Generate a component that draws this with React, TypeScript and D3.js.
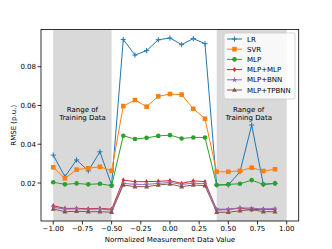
import React from 'react';
import * as d3 from 'd3';

const xs = [-1.0, -0.9, -0.8, -0.7, -0.6, -0.5, -0.4, -0.3, -0.2, -0.1, 0.0, 0.1, 0.2, 0.3, 0.4, 0.5, 0.6, 0.7, 0.8, 0.9];

const lr = [0.0344, 0.0233, 0.0319, 0.0263, 0.0361, 0.019, 0.0941, 0.086, 0.0883, 0.0939, 0.0948, 0.0914, 0.0945, 0.0919, 0.019, 0.019, 0.0258, 0.0499, 0.0193, 0.0198];
const svr = [0.0281, 0.0224, 0.0269, 0.0276, 0.0284, 0.0263, 0.0597, 0.0628, 0.0594, 0.0647, 0.0659, 0.0656, 0.0583, 0.0532, 0.0258, 0.0258, 0.0263, 0.0279, 0.0262, 0.0271];
const mlp = [0.0204, 0.0193, 0.0198, 0.0193, 0.0196, 0.0186, 0.0444, 0.0427, 0.0433, 0.0443, 0.0447, 0.043, 0.0435, 0.0435, 0.019, 0.0193, 0.0196, 0.0215, 0.0193, 0.0198];
const mlpMlp = [0.0083, 0.0069, 0.0069, 0.0067, 0.0069, 0.0065, 0.0215, 0.0207, 0.0207, 0.0209, 0.0212, 0.0198, 0.0211, 0.0207, 0.0061, 0.0063, 0.0071, 0.0062, 0.0065, 0.0063];
const mlpBnn = [0.0075, 0.0065, 0.0067, 0.0064, 0.0066, 0.006, 0.0198, 0.0193, 0.0193, 0.0198, 0.0203, 0.0193, 0.0199, 0.0196, 0.0065, 0.0065, 0.0072, 0.007, 0.0066, 0.0068];
const mlpTpbnn = [0.0066, 0.0052, 0.0054, 0.0052, 0.0052, 0.0049, 0.019, 0.0181, 0.0181, 0.019, 0.0195, 0.0181, 0.019, 0.0186, 0.0049, 0.0049, 0.0057, 0.0063, 0.0052, 0.0052];

const xTicks = [-1.0, -0.75, -0.5, -0.25, 0.0, 0.25, 0.5, 0.75, 1.0];
const yTicks = [0.02, 0.04, 0.06, 0.08];
const spans = [[-1.0, -0.5], [0.4, 1.0]];

const series = [
  { name: 'LR', values: lr, color: '#1f77b4', marker: 'plus' },
  { name: 'SVR', values: svr, color: '#ff7f0e', marker: 'square' },
  { name: 'MLP', values: mlp, color: '#2ca02c', marker: 'circle' },
  { name: 'MLP+MLP', values: mlpMlp, color: '#d62728', marker: 'diamond' },
  { name: 'MLP+BNN', values: mlpBnn, color: '#9467bd', marker: 'star' },
  { name: 'MLP+TPBNN', values: mlpTpbnn, color: '#8c564b', marker: 'triangle' },
];

const M = { left: 41, right: 298.7, top: 29.5, bottom: 221 };
const font = 'DejaVu Sans, sans-serif';

const x = d3.scaleLinear().domain([-1.105, 1.103]).range([M.left, M.right]);
const y = d3.scaleLinear().domain([0.0004, 0.0992]).range([M.bottom, M.top]);

// matplotlib-ish marker shapes
function Marker({ type, cx, cy, color }: { type: string; cx: number; cy: number; color: string }) {
  if (type === 'plus')
    return <path d={`M${cx - 2.6},${cy}H${cx + 2.6}M${cx},${cy - 2.6}V${cy + 2.6}`} stroke={color} strokeWidth={1} />;
  if (type === 'square') return <rect x={cx - 2.3} y={cy - 2.3} width={4.6} height={4.6} fill={color} />;
  if (type === 'circle') return <circle cx={cx} cy={cy} r={2.3} fill={color} />;
  if (type === 'diamond')
    return <path d={`M${cx},${cy - 2.6}L${cx + 1.6},${cy}L${cx},${cy + 2.6}L${cx - 1.6},${cy}Z`} fill={color} />;
  if (type === 'star') {
    const p = d3.symbol(d3.symbolStar, 10)();
    return <path d={p || ''} transform={`translate(${cx},${cy})`} fill={color} />;
  }
  return <path d={`M${cx},${cy - 2.6}L${cx + 2.5},${cy + 1.8}L${cx - 2.5},${cy + 1.8}Z`} fill={color} />;
}

const fmt = (t: number) => (t < 0 ? '\u2212' + Math.abs(t).toFixed(2) : t.toFixed(2));

export default function App() {
  const line = d3.line<number>().x((_, i) => x(xs[i])).y((d) => y(d));
  return (
    <svg width={332} height={249} style={{ position: 'absolute', left: 0, top: 0 }} fontFamily={font}>
      <rect width={332} height={249} fill="#fff" />
      {spans.map(([a, b], i) => (
        <rect key={i} x={x(a)} y={M.top} width={x(b) - x(a)} height={M.bottom - M.top} fill="#d9d9d9" />
      ))}
      {spans.map(([a, b], i) => {
        const cx = (x(a) + x(b)) / 2 - (i === 1 ? 3 : 0);
        return (
          <text key={i} x={cx} y={112} fontSize={7} textAnchor="middle" fill="#000">
            <tspan x={cx}>Range of</tspan>
            <tspan x={cx} dy={8.3}>Training Data</tspan>
          </text>
        );
      })}
      {series.map((s) => (
        <g key={s.name}>
          <path d={line(s.values) || ''} fill="none" stroke={s.color} strokeWidth={1} />
          {s.values.map((v, i) => (
            <Marker key={i} type={s.marker} cx={x(xs[i])} cy={y(v)} color={s.color} />
          ))}
        </g>
      ))}
      <rect x={M.left} y={M.top} width={M.right - M.left} height={M.bottom - M.top} fill="none" stroke="#000" strokeWidth={0.8} />
      {xTicks.map((t) => (
        <g key={t}>
          <line x1={x(t)} x2={x(t)} y1={M.bottom} y2={M.bottom + 3.5} stroke="#000" strokeWidth={0.8} />
          <text x={x(t)} y={231} fontSize={7} textAnchor="middle">{fmt(t)}</text>
        </g>
      ))}
      {yTicks.map((t) => (
        <g key={t}>
          <line x1={M.left - 3.5} x2={M.left} y1={y(t)} y2={y(t)} stroke="#000" strokeWidth={0.8} />
          <text x={36} y={y(t) + 2.5} fontSize={7} textAnchor="end">{t.toFixed(2)}</text>
        </g>
      ))}
      <text x={170} y={242} fontSize={7} textAnchor="middle">Normalized Measurement Data Value</text>
      <text transform={`translate(15.5,${(M.top + M.bottom) / 2}) rotate(-90)`} fontSize={7} textAnchor="middle">RMSE (p.u.)</text>
      <g>
        <rect x={224} y={33} width={71} height={66} rx={2} fill="#fff" fillOpacity={0.8} stroke="#ccc" strokeWidth={0.8} />
        {series.map((s, i) => {
          const ly = 39 + i * 10.2;
          return (
            <g key={s.name}>
              <line x1={227} x2={242} y1={ly} y2={ly} stroke={s.color} strokeWidth={1} />
              <Marker type={s.marker} cx={234.5} cy={ly} color={s.color} />
              <text x={247} y={ly + 2.5} fontSize={7}>{s.name}</text>
            </g>
          );
        })}
      </g>
    </svg>
  );
}
